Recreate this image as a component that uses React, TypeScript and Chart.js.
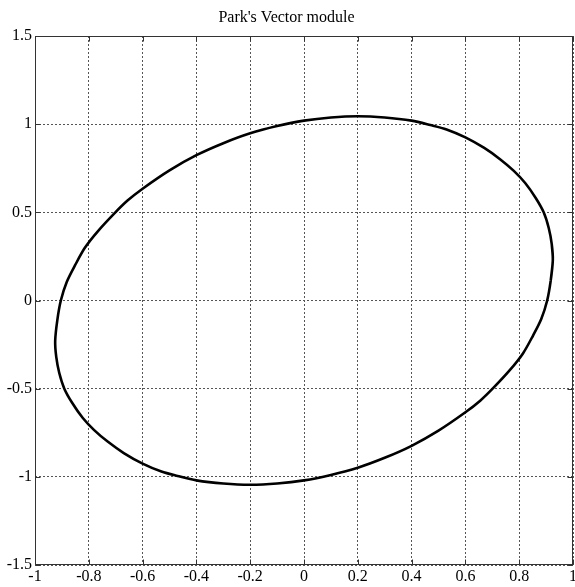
import React, { useEffect, useRef } from "react";
import { Chart, registerables } from "chart.js";

Chart.register(...registerables);

const titleText = "Park's Vector module";

const xTicks = [-1, -0.8, -0.6, -0.4, -0.2, 0, 0.2, 0.4, 0.6, 0.8, 1];
const yTicks = [-1.5, -1, -0.5, 0, 0.5, 1, 1.5];

// Park's vector locus (counter-clockwise, closed with overlap)
const parkX = [
  0.917, 0.925, 0.921, 0.91, 0.891, 0.862, 0.823, 0.78, 0.73, 0.67, 0.6, 0.53, 0.47, 0.4, 0.3, 0.2,
  0.1, 0.0, -0.1, -0.2, -0.3, -0.4, -0.5, -0.6, -0.655, -0.703, -0.765, -0.814, -0.851, -0.882,
  -0.904, -0.917, -0.925, -0.921, -0.91, -0.891, -0.862, -0.823, -0.78, -0.73, -0.67, -0.6, -0.53,
  -0.47, -0.4, -0.3, -0.2, -0.1, 0.0, 0.1, 0.2, 0.3, 0.4, 0.5, 0.6, 0.655, 0.703, 0.765, 0.814,
  0.851, 0.882, 0.904, 0.917, 0.925, 0.921,
];
const parkY = [
  0.111, 0.23, 0.32, 0.41, 0.5, 0.58, 0.665, 0.735, 0.8, 0.865, 0.925, 0.97, 0.995, 1.02, 1.038,
  1.045, 1.038, 1.02, 0.989, 0.948, 0.892, 0.824, 0.738, 0.634, 0.568, 0.497, 0.395, 0.3, 0.2,
  0.105, 0.0, -0.111, -0.23, -0.32, -0.41, -0.5, -0.58, -0.665, -0.735, -0.8, -0.865, -0.925,
  -0.97, -0.995, -1.02, -1.038, -1.045, -1.038, -1.02, -0.989, -0.948, -0.892, -0.824, -0.738,
  -0.634, -0.568, -0.497, -0.395, -0.3, -0.2, -0.105, 0.0, 0.111, 0.23, 0.32,
];

const FONT = "'Liberation Serif', 'Times New Roman', serif";

export default function App() {
  const ref = useRef<HTMLCanvasElement>(null);

  useEffect(() => {
    if (!ref.current) return;

    const framePlugin = {
      id: "frame",
      afterDraw(chart: any) {
        const { ctx, chartArea: a, scales } = chart;
        const l = Math.round(a.left) + 0.5;
        const r = Math.round(a.right) - 0.5;
        const t = Math.round(a.top) + 0.5;
        const b = Math.round(a.bottom) - 0.5;
        ctx.save();
        ctx.strokeStyle = "#333";
        ctx.lineWidth = 1;
        ctx.setLineDash([]);
        ctx.beginPath();
        const tl = 5;
        xTicks.forEach((v) => {
          const px = Math.round(scales.x.getPixelForValue(v)) + 0.5;
          ctx.moveTo(px, b);
          ctx.lineTo(px, b - tl);
          ctx.moveTo(px, t);
          ctx.lineTo(px, t + tl);
        });
        yTicks.forEach((v) => {
          const py = Math.round(scales.y.getPixelForValue(v)) + 0.5;
          ctx.moveTo(l, py);
          ctx.lineTo(l + tl, py);
          ctx.moveTo(r, py);
          ctx.lineTo(r - tl, py);
        });
        ctx.stroke();
        ctx.strokeRect(l, t, r - l, b - t);
        ctx.restore();
      },
    };

    const chart = new Chart(ref.current, {
      type: "scatter",
      data: {
        datasets: [
          {
            data: parkX.map((x, i) => ({ x, y: parkY[i] })),
            showLine: true,
            borderColor: "#000",
            borderWidth: 2.6,
            pointRadius: 0,
            tension: 0.3,
            fill: false,
          },
        ],
      },
      options: {
        responsive: false,
        animation: false,
        devicePixelRatio: 1,
        layout: { padding: { left: 0, right: 2, top: 0, bottom: 0 } },
        plugins: {
          legend: { display: false },
          tooltip: { enabled: false },
          title: {
            display: true,
            text: titleText,
            color: "#000",
            font: { family: FONT, size: 16, weight: "normal", lineHeight: 1.2 },
            padding: { top: 8, bottom: 8.8 },
          },
        },
        scales: {
          x: {
            type: "linear",
            min: -1,
            max: 1,
            afterBuildTicks: (s: any) => {
              s.ticks = xTicks.map((v) => ({ value: v }));
            },
            afterFit: (s: any) => {
              s.height = 22;
              s.paddingLeft = 0;
              s.paddingRight = 0;
            },
            ticks: {
              color: "#000",
              font: { family: FONT, size: 16 },
              padding: 2,
              maxRotation: 0,
              autoSkip: false,
              callback: (v: any) => String(v),
            },
            grid: {
              color: "#555",
              lineWidth: 1,
              drawTicks: false,
            },
            border: { display: false, dash: [2, 2] },
          },
          y: {
            type: "linear",
            min: -1.5,
            max: 1.5,
            afterBuildTicks: (s: any) => {
              s.ticks = yTicks.map((v) => ({ value: v }));
            },
            afterFit: (s: any) => {
              s.width = 35;
              s.paddingTop = 0;
              s.paddingBottom = 0;
            },
            ticks: {
              color: "#000",
              font: { family: FONT, size: 16 },
              padding: 3,
              autoSkip: false,
              callback: (v: any) => String(v),
            },
            grid: {
              color: "#555",
              lineWidth: 1,
              drawTicks: false,
            },
            border: { display: false, dash: [2, 2] },
          },
        },
      },
      plugins: [framePlugin],
    });

    return () => chart.destroy();
  }, []);

  return (
    <div style={{ position: "absolute", left: 0, top: 0, width: 575, height: 587, background: "#fff" }}>
      <canvas ref={ref} width={575} height={587} style={{ display: "block" }} />
    </div>
  );
}
